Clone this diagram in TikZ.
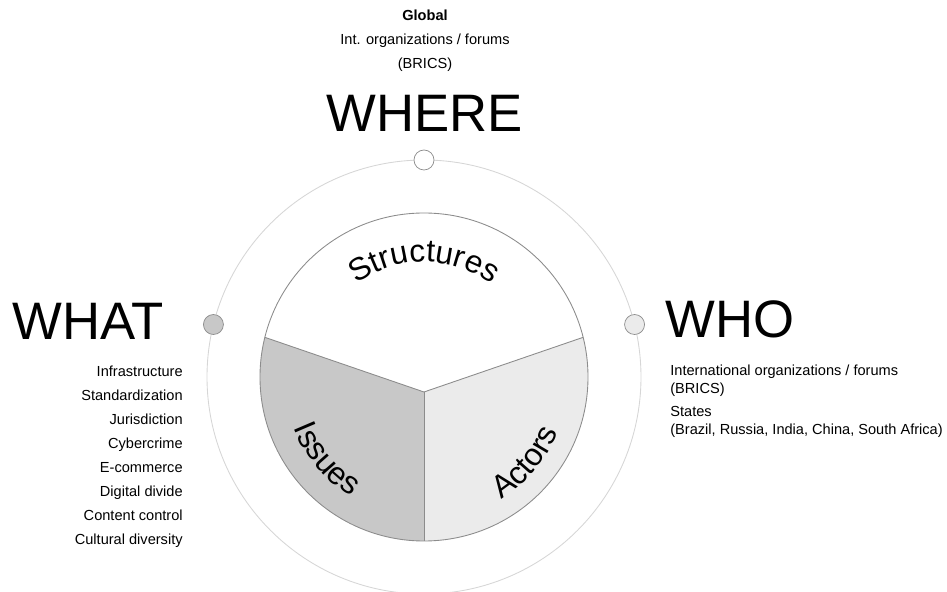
\documentclass[tikz,border=0pt]{standalone}
\usepackage{fontspec}
\setmainfont{Liberation Sans}
\usetikzlibrary{decorations.text}

\definecolor{ringgray}{HTML}{D6D6D6}
\definecolor{edgegray}{HTML}{8C8C8C}
\definecolor{issuegray}{HTML}{C8C8C8}
\definecolor{actorgray}{HTML}{EBEBEB}

\tikzset{
  bigword/.style={font=\fontsize{30}{36}\selectfont, inner sep=0pt},
  smalltext/.style={font=\fontsize{8.3}{10}\selectfont, inner sep=0pt},
  ringdot/.style={circle, draw=edgegray, minimum size=0.4cm, inner sep=0pt},
  arclabel/.style={decorate, decoration={text along path, text align={center},
      text={|\fontsize{18}{21}\selectfont|#1}}}
}

\begin{document}
\begin{tikzpicture}
  \useasboundingbox (-8.48,-4.3) rectangle (10.46,7.54);

  % outer ring and inner pie
  \draw[ringgray, line width=0.5pt] (0,0) circle (4.34);
  \coordinate (apex) at (0,-0.3);
  \fill[issuegray] (apex) -- (166:3.28) arc[start angle=166, end angle=270, radius=3.28] -- cycle;
  \fill[actorgray] (apex) -- (270:3.28) arc[start angle=270, end angle=374, radius=3.28] -- cycle;
  \draw[edgegray, line width=0.5pt] (0,0) circle (3.28);
  \draw[edgegray, line width=0.5pt] (166:3.28) -- (apex) -- (14:3.28);
  \draw[edgegray, line width=0.5pt] (apex) -- (270:3.28);

  % curved sector labels
  \path[arclabel=Structures] (150:2.3) arc[start angle=150, end angle=30, radius=2.3];
  \path[arclabel=Issues] (180:2.8) arc[start angle=180, end angle=260, radius=2.8];
  \path[arclabel=Actors] (280:2.9) arc[start angle=280, end angle=360, radius=2.9];

  % dots on the ring
  \node[ringdot, fill=white] (whereDot) at (90:4.34) {};
  \node[ringdot, fill=issuegray] (whatDot) at (166:4.34) {};
  \node[ringdot, fill=actorgray] (whoDot) at (14:4.34) {};

  % WHERE
  \node[bigword, anchor=base] (where) at (0.02,4.9) {WHERE};
  \node[smalltext, anchor=base] (whereA) at (0.02,7.12) {\bfseries Global};
  \node[smalltext, anchor=base] (whereB) at (0.02,6.64) {Int. organizations / forums};
  \node[smalltext, anchor=base] (whereC) at (0.02,6.16) {(BRICS)};

  % WHAT
  \node[bigword, anchor=base west] (what) at (-8.24,0.74) {WHAT};
  \foreach \item [count=\i] in {Infrastructure\ , Standardization, Jurisdiction,
      Cybercrime, E-commerce, Digital divide, Content control, Cultural diversity}
    \node[smalltext, anchor=base east] (what\i) at (-4.82,{-0.48*(\i-1)}) {\item};

  % WHO
  \node[bigword, anchor=base west] (who) at (4.82,0.78) {WHO};
  \node[smalltext, anchor=base west] (whoA) at (4.92,0.02) {International organizations / forums};
  \node[smalltext, anchor=base west] (whoB) at (4.92,-0.34) {(BRICS)};
  \node[smalltext, anchor=base west] (whoC) at (4.92,-0.8) {States};
  \node[smalltext, anchor=base west] (whoD) at (4.92,-1.16) {(Brazil, Russia, India, China, South Africa)};
\end{tikzpicture}
\end{document}
